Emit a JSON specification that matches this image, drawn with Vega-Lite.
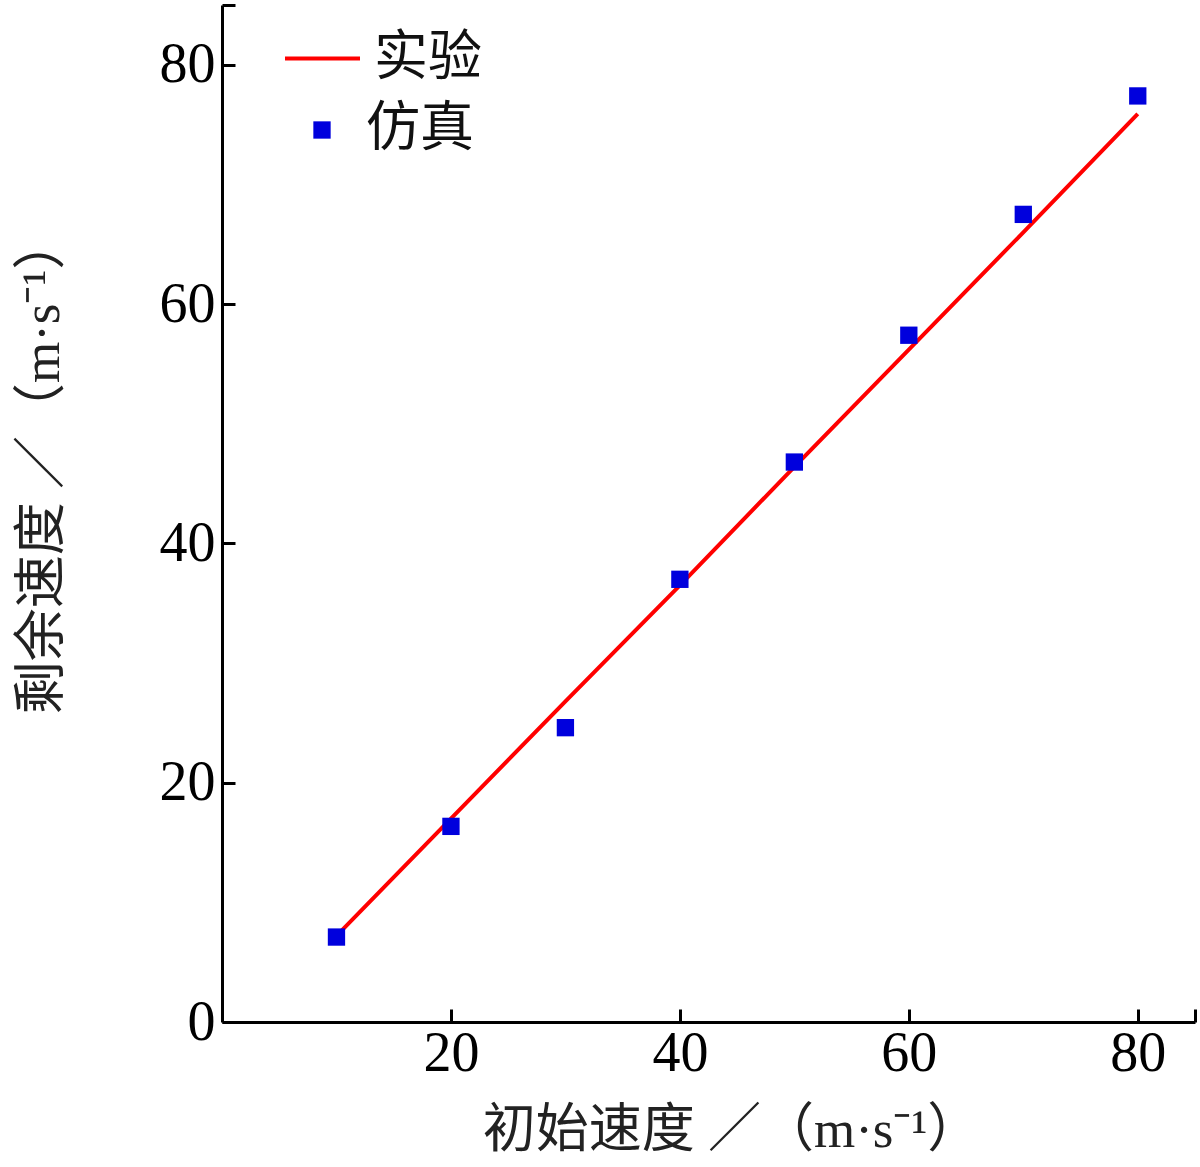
{
  "$schema": "https://vega.github.io/schema/vega-lite/v6.json",
  "autosize": "none",
  "width": 973,
  "height": 1017,
  "padding": {"left": 222, "top": 5, "right": 5, "bottom": 145},
  "background": "white",
  "config": {
    "view": {"stroke": null},
    "font": "Liberation Serif, 'Noto Sans CJK SC'",
    "axis": {
      "grid": false,
      "domainColor": "black",
      "domainWidth": 3,
      "tickColor": "black",
      "tickWidth": 3,
      "tickSize": -13,
      "labelFont": "Liberation Serif",
      "labelFontSize": 56,
      "labelColor": "black",
      "titleFont": "Liberation Serif, 'Noto Sans CJK SC'",
      "titleFontSize": 53,
      "titleFontWeight": "normal",
      "titleColor": "#222"
    },
    "legend": {
      "labelFont": "'Noto Sans CJK SC'",
      "labelFontSize": 54,
      "labelColor": "#111",
      "padding": 0
    }
  },
  "data": {
    "values": [
      {"x": 10, "exp": 7.2, "sim": 7.1, "l1": "实验", "l2": "仿真"},
      {"x": 20, "exp": 17.0, "sim": 16.35, "l1": "实验", "l2": "仿真"},
      {"x": 30, "exp": 26.8, "sim": 24.6, "l1": "实验", "l2": "仿真"},
      {"x": 40, "exp": 36.5, "sim": 37.0, "l1": "实验", "l2": "仿真"},
      {"x": 50, "exp": 46.4, "sim": 46.8, "l1": "实验", "l2": "仿真"},
      {"x": 60, "exp": 56.2, "sim": 57.4, "l1": "实验", "l2": "仿真"},
      {"x": 70, "exp": 66.0, "sim": 67.5, "l1": "实验", "l2": "仿真"},
      {"x": 80, "exp": 75.9, "sim": 77.4, "l1": "实验", "l2": "仿真"}
    ]
  },
  "encoding": {
    "x": {
      "field": "x",
      "type": "quantitative",
      "scale": {"domain": [0, 85], "nice": false, "zero": false},
      "axis": {
        "values": [20, 40, 60, 80, 85],
        "labelExpr": "datum.value == 85 ? '' : datum.label",
        "labelPadding": 17,
        "title": "初始速度 ／（m·s⁻¹）",
        "titleX": 509,
        "titleY": 108,
        "titleBaseline": "middle"
      }
    }
  },
  "layer": [
    {
      "mark": {"type": "line", "strokeWidth": 4},
      "encoding": {
        "y": {
          "field": "exp",
          "type": "quantitative",
          "scale": {"domain": [0, 85], "nice": false, "zero": false},
          "axis": {
            "values": [0, 20, 40, 60, 80, 85],
            "labelExpr": "datum.value == 85 ? '' : datum.label",
            "labelPadding": 20,
            "title": "剩余速度 ／（m·s⁻¹）",
            "titleAngle": -90,
            "titleX": -180,
            "titleY": 460,
            "titleBaseline": "middle",
            "titleAlign": "center"
          }
        },
        "stroke": {
          "field": "l1",
          "type": "nominal",
          "scale": {"range": ["#ff0000"]},
          "legend": {
            "title": null,
            "orient": "none",
            "legendX": 61,
            "legendY": 14,
            "symbolType": "stroke",
            "symbolSize": 5625,
            "symbolStrokeWidth": 4,
            "labelOffset": 12
          }
        }
      }
    },
    {
      "mark": {"type": "point", "shape": "square", "filled": true, "size": 300, "opacity": 1},
      "encoding": {
        "y": {"field": "sim", "type": "quantitative"},
        "fill": {
          "field": "l2",
          "type": "nominal",
          "scale": {"range": ["#0000dd"]},
          "legend": {
            "title": null,
            "orient": "none",
            "legendX": 73,
            "legendY": 98,
            "symbolType": "square",
            "symbolSize": 300,
            "symbolOpacity": 1,
            "symbolStrokeWidth": 0,
            "labelOffset": 17
          }
        }
      }
    }
  ]
}
